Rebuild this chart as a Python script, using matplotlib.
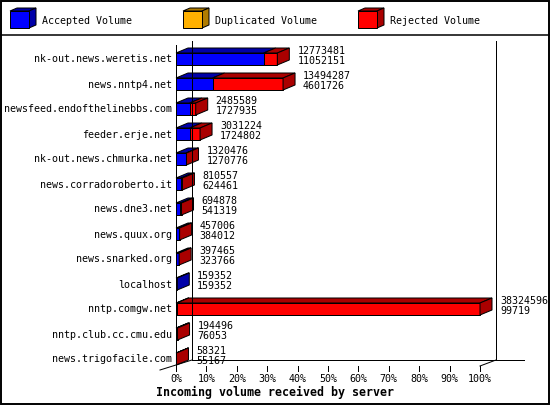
import matplotlib
matplotlib.use('Agg')
import matplotlib.pyplot as plt
from matplotlib.patches import Polygon, Rectangle
from matplotlib.lines import Line2D

servers = ['nk-out.news.weretis.net', 'news.nntp4.net', 'newsfeed.endofthelinebbs.com',
           'feeder.erje.net', 'nk-out.news.chmurka.net', 'news.corradoroberto.it',
           'news.dne3.net', 'news.quux.org', 'news.snarked.org', 'localhost',
           'nntp.comgw.net', 'nntp.club.cc.cmu.edu', 'news.trigofacile.com']
total_volume = [12773481, 13494287, 2485589, 3031224, 1320476, 810557, 694878,
                457006, 397465, 159352, 38324596, 194496, 58321]
accepted_volume = [11052151, 4601726, 1727935, 1724802, 1270776, 624461, 541319,
                   384012, 323766, 159352, 99719, 76053, 55167]
x_ticks = [0, 10, 20, 30, 40, 50, 60, 70, 80, 90, 100]
legend_labels = ['Accepted Volume', 'Duplicated Volume', 'Rejected Volume']
x_title = 'Incoming volume received by server'

W, H = 550, 405
DPI = 100
BLUE, DBLUE = '#0000FF', '#0000A8'
ORANGE, DORANGE = '#FFB000', '#B07C00'
RED, DRED = '#FF0000', '#AA0000'
FONT = 'DejaVu Sans Mono'
FS = 7.2

fig = plt.figure(figsize=(W / DPI, H / DPI), dpi=DPI)
fig.patch.set_facecolor('white')

# decoration layer in pixel coordinates
deco = fig.add_axes([0, 0, 1, 1])
deco.set_xlim(0, W)
deco.set_ylim(H, 0)
deco.axis('off')
deco.set_zorder(0)

# main plot axes: x in percent, y in category index
ax_left, ax_right, ax_top, ax_bot = 176, 480, 41, 366
n = len(servers)
y_top = (ax_top - 59) / 25.0
y_bot = (ax_bot - 59) / 25.0
ax = fig.add_axes([ax_left / W, (H - ax_bot) / H, (ax_right - ax_left) / W, (ax_bot - ax_top) / H])
ax.set_xlim(0, 100)
ax.set_ylim(y_bot, y_top)
ax.axis('off')
ax.set_zorder(1)
ax.patch.set_visible(False)

PX = 100.0 / (ax_right - ax_left)   # data units per pixel, x
PY = (y_bot - y_top) / (ax_bot - ax_top)  # data units per pixel, y (down positive)
lw = 0.72

def line(xs, ys, **kw):
    ax.add_line(Line2D(xs, ys, color='black', lw=lw, clip_on=False, **kw))

# walls / floor
WDX, WDY = 16 * PX, -6 * PY
line([0, 0], [y_top + 4 * PY, y_bot])
line([WDX, WDX], [y_top, y_bot + WDY])
line([100 + WDX, 100 + WDX], [y_top, y_bot + WDY])
line([WDX, 100 + WDX + 28 * PX], [y_bot + WDY, y_bot + WDY])
line([-16 * PX, WDX], [y_bot + 4 * PY, y_bot + WDY])
line([100, 100 + WDX], [y_bot, y_bot + WDY])
for t in x_ticks:
    line([t, t], [y_bot, y_bot + 5 * PY])
    ax.text(t, y_bot + 16 * PY, f'{t}%', ha='center', va='baseline',
            fontsize=FS, family=FONT, clip_on=False)
ax.text(-20 * PX, y_bot + 30 * PY, x_title, ha='left', va='baseline',
        fontsize=8.4, family=FONT, fontweight='bold', clip_on=False)

# bars
vmax = max(total_volume)
BH = 6 * PY
DX, DY = 12 * PX, -5 * PY
for i, (name, tot, acc) in enumerate(zip(servers, total_volume, accepted_volume)):
    pt = tot / vmax * 100
    pa = acc / vmax * 100
    y0, y1 = i - BH, i + BH
    kw = dict(ec='black', lw=lw, clip_on=False, joinstyle='miter')
    ax.add_patch(Rectangle((0, y0), pa, y1 - y0, fc=BLUE, **kw))
    if pt > pa:
        ax.add_patch(Rectangle((pa, y0), pt - pa, y1 - y0, fc=RED, **kw))
    ax.add_patch(Polygon([(0, y0), (pa, y0), (pa + DX, y0 + DY), (DX, y0 + DY)], closed=True, fc=DBLUE, **kw))
    if pt > pa:
        ax.add_patch(Polygon([(pa, y0), (pt, y0), (pt + DX, y0 + DY), (pa + DX, y0 + DY)], closed=True, fc=DRED, **kw))
    side = DRED if pt > pa else DBLUE
    ax.add_patch(Polygon([(pt, y0), (pt, y1), (pt + DX, y1 + DY), (pt + DX, y0 + DY)], closed=True, fc=side, **kw))
    tx = pt + DX + 8 * PX
    ax.text(tx, i - 5 * PY, str(tot), ha='left', va='baseline', fontsize=FS, family=FONT, clip_on=False)
    ax.text(tx, i + 5 * PY, str(acc), ha='left', va='baseline', fontsize=FS, family=FONT, clip_on=False)
    ax.text(-4 * PX, i + 3.5 * PY, name, ha='right', va='baseline', fontsize=FS, family=FONT, clip_on=False)

# legend
leg_x = [10, 183, 358]
leg_fc = [(BLUE, DBLUE), (ORANGE, DORANGE), (RED, DRED)]
for lx, (fc, dc), lab in zip(leg_x, leg_fc, legend_labels):
    x0, x1, ty0, ty1 = lx, lx + 19, 11, 28
    d, e = 7, 3
    deco.add_patch(Polygon([(x0, ty0), (x1, ty0), (x1 + d, ty0 - e), (x0 + d, ty0 - e)], closed=True, fc=dc, ec='black', lw=lw))
    deco.add_patch(Polygon([(x1, ty0), (x1, ty1), (x1 + d, ty1 - e), (x1 + d, ty0 - e)], closed=True, fc=dc, ec='black', lw=lw))
    deco.add_patch(Rectangle((x0, ty0), x1 - x0, ty1 - ty0, fc=fc, ec='black', lw=lw))
    deco.text(x1 + 13, 24.5, lab, ha='left', va='baseline', fontsize=FS, family=FONT)

deco.add_line(Line2D([0, W], [35, 35], color='black', lw=1.1))
deco.add_patch(Rectangle((0.7, 0.7), W - 2.2, H - 2.2, fill=False, ec='black', lw=1.4))

fig.savefig('out.png', dpi=DPI, facecolor='white')
